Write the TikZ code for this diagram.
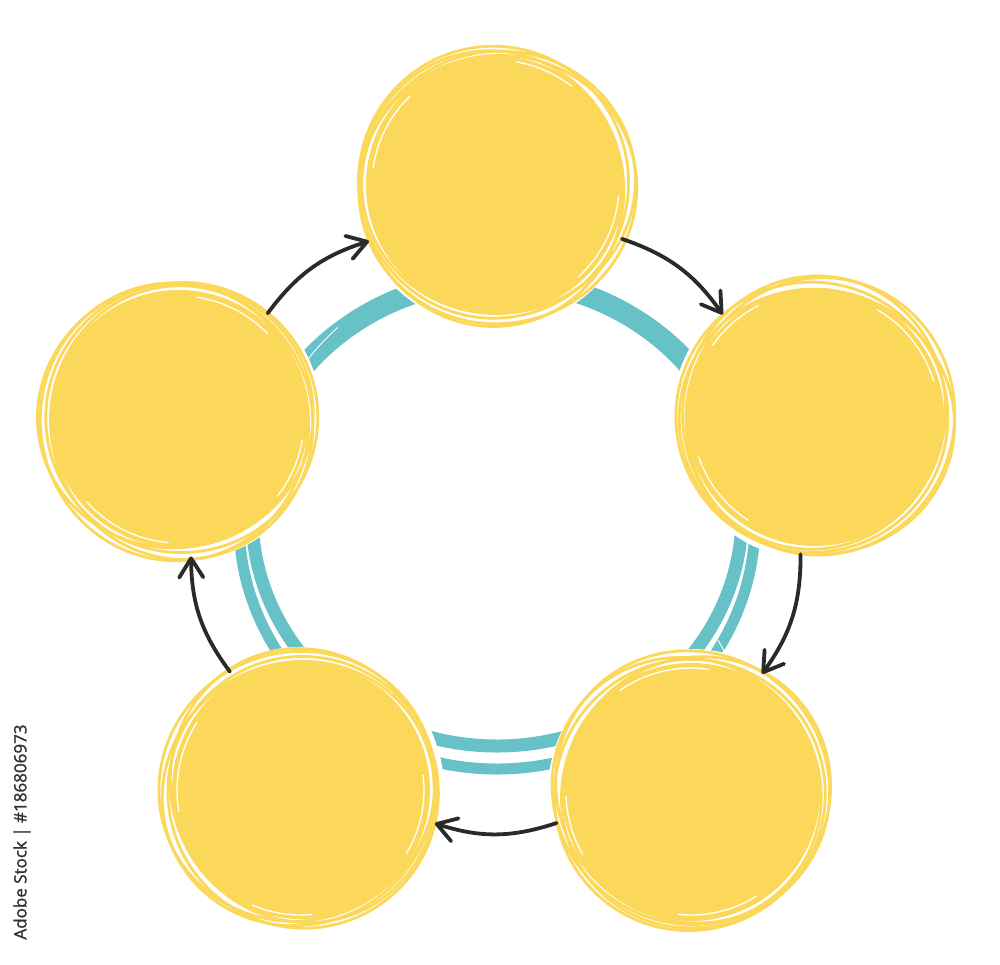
\documentclass[tikz,border=0pt]{standalone}
\usepackage{fontspec}
\newfontfamily\stockfont[FakeBold=1.3]{Open Sans}
\usetikzlibrary{arrows.meta}
\definecolor{sun}{RGB}{252,216,90}
\definecolor{teal}{RGB}{102,194,198}
\definecolor{ink}{RGB}{42,42,42}
\definecolor{stockgray}{RGB}{48,48,48}
\tikzset{
  disc/.style={circle, minimum size=276pt, inner sep=0pt, outer sep=0pt},
  sunline/.style={draw=sun, line width=2.8pt},
  scratch/.style={draw=white, line width=1.3pt, line cap=round},
  band/.style={draw=teal},
  cyclearrow/.style={draw=ink, line width=3.8pt, line cap=round,
    -{Straight Barb[length=19pt, width=24pt, line width=3.8pt, round]}},
}
\newcommand{\sketchdisc}[4]{%
  \node[disc] (#1) at (#2,#3) {};
  \begin{scope}[shift={(#1.center)}, rotate=#4]
    \fill[white] (0,0) circle (143);
    \fill[sun] (0,0) circle (129);
    \draw[sunline] (4,-2) ellipse [x radius=137, y radius=131];
    \draw[sunline] (-4,3) ellipse [x radius=132, y radius=138];
    \draw[sunline] (2,5) ellipse [x radius=139, y radius=134];
    \draw[sunline] (-1,-3) ellipse [x radius=135, y radius=136];
    \draw[scratch] (15:124) arc (15:58:124);
    \draw[scratch] (198:123) arc (198:236:123);
    \draw[scratch] (290:125) arc (290:318:125);
  \end{scope}}
\begin{document}
\begin{tikzpicture}[x=1pt, y=-1pt]
  \useasboundingbox (0,0) rectangle (1000,964);
  % teal ring
  \draw[band, line width=13pt] (497,515) ellipse [x radius=245, y radius=231];
  \draw[band, line width=11pt] (497,522) ellipse [x radius=258, y radius=247];
  \draw[scratch, line width=0.9pt] (300,370) arc (215:228:250);
  \draw[scratch, line width=0.9pt] (718,640) arc (-30:-18:250);
  % discs
  \sketchdisc{T}{495}{185}{10}
  \sketchdisc{R}{815}{417}{75}
  \sketchdisc{BR}{691}{792}{140}
  \sketchdisc{BL}{301}{790}{205}
  \sketchdisc{L}{179}{419}{280}
  % arrows
  \draw[cyclearrow] (L.50) to[bend left=18] (T.204);
  \draw[cyclearrow] (T.-23) to[bend left=18] (R.132);
  \draw[cyclearrow] (R.264) to[bend left=18] (BR.59);
  \draw[cyclearrow] (BR.193) to[bend left=18] (BL.-14);
  \draw[cyclearrow] (BL.121) to[bend left=18] (L.275);
  % stock label
  \node[rotate=90, text=stockgray, font=\stockfont\fontsize{17}{17}\selectfont] (stock) at (22,832) {Adobe Stock | \#186806973};
\end{tikzpicture}
\end{document}
